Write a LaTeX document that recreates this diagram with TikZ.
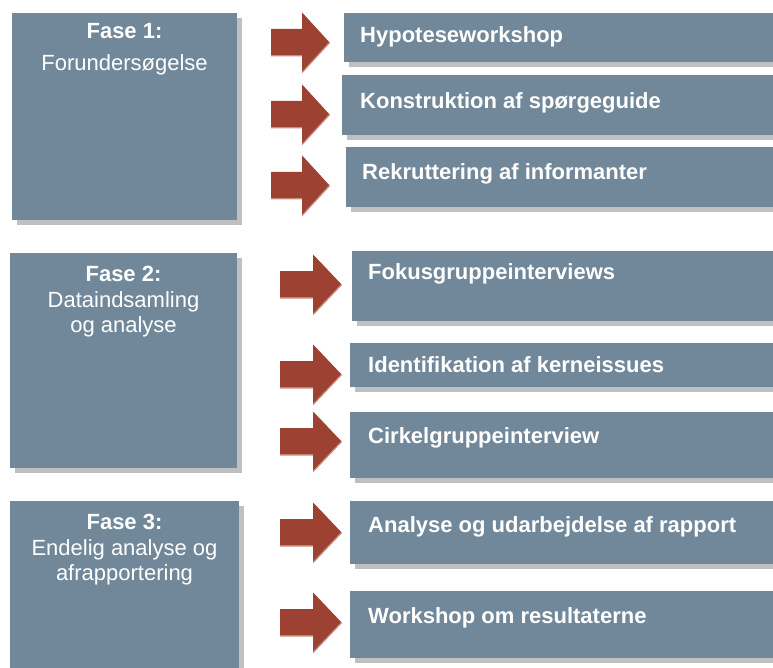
\documentclass[tikz,border=0pt]{standalone}
\usepackage{fontspec}
\setmainfont{Liberation Sans}
\usetikzlibrary{shadows}

\definecolor{slate}{RGB}{113,136,154}
\definecolor{shade}{RGB}{192,192,192}
\definecolor{rust}{RGB}{157,66,50}
\definecolor{rustlight}{RGB}{200,140,128}

\tikzset{
  panel/.style={fill=slate, draw=none, inner sep=0pt, outer sep=0pt, anchor=north west,
    drop shadow={fill=shade, opacity=1, shadow xshift=5pt, shadow yshift=-5pt}},
  title/.style={text=white, font=\fontsize{22}{26}\selectfont\bfseries, anchor=base, inner sep=0pt},
  subtitle/.style={text=white, font=\fontsize{22}{26}\selectfont, anchor=base, inner sep=0pt},
  steptext/.style={text=white, font=\fontsize{22}{26}\selectfont\bfseries, anchor=base west, inner sep=0pt},
  arrowbody/.style={fill=rust},
  arrowedge/.style={fill=rustlight},
}

% block arrow: #1 tail x, #2 head base x, #3 tip x, #4 centre y
\newcommand{\blockarr}[4]{%
  \fill[arrowedge] ({#1},{#4-12}) -- ({#2},{#4-12}) -- ({#2},{#4-29.5}) -- ({#3+1},{#4+1})
    -- ({#2},{#4+31.5}) -- ({#2},{#4+14.5}) -- ({#1},{#4+14.5}) -- cycle;
  \fill[arrowbody] ({#1},{#4-13}) -- ({#2},{#4-13}) -- ({#2},{#4-29.5}) -- ({#3},{#4})
    -- ({#2},{#4+29.5}) -- ({#2},{#4+13}) -- ({#1},{#4+13}) -- cycle;
}

\begin{document}
\begin{tikzpicture}[x=1pt,y=-1pt]
\useasboundingbox (0,0) rectangle (773,668);
\fill[white] (0,0) rectangle (773,668);

% phase panels
\node[panel, minimum width=225pt, minimum height=207pt] (phase1) at (12,13) {};
\node[panel, minimum width=227pt, minimum height=215pt] (phase2) at (10,253) {};
\node[panel, minimum width=229pt, minimum height=180pt] (phase3) at (10,501) {};

\node[title]    (phase1title) at (124.5,39)  {Fase 1:};
\node[subtitle] (phase1sub)   at (124.5,71)  {Forundersøgelse};
\node[title]    (phase2title) at (123.5,281) {Fase 2:};
\node[subtitle] (phase2suba)  at (123.5,307) {Dataindsamling};
\node[subtitle] (phase2subb)  at (123.5,332) {og analyse};
\node[title]    (phase3title) at (124.5,529) {Fase 3:};
\node[subtitle] (phase3suba)  at (124.5,555) {Endelig analyse og};
\node[subtitle] (phase3subb)  at (124.5,580) {afrapportering};

% step panels (run past the right edge)
\node[panel, minimum width=446pt, minimum height=49pt] (step1) at (344,13)  {};
\node[panel, minimum width=448pt, minimum height=60pt] (step2) at (342,75)  {};
\node[panel, minimum width=444pt, minimum height=60pt] (step3) at (346,147) {};
\node[panel, minimum width=438pt, minimum height=70pt] (step4) at (352,251) {};
\node[panel, minimum width=440pt, minimum height=44pt] (step5) at (350,343) {};
\node[panel, minimum width=440pt, minimum height=66pt] (step6) at (350,412) {};
\node[panel, minimum width=440pt, minimum height=63pt] (step7) at (350,501) {};
\node[panel, minimum width=440pt, minimum height=67pt] (step8) at (350,591) {};

\node[steptext] (step1text) at (360,43)  {Hypoteseworkshop};
\node[steptext] (step2text) at (360,109) {Konstruktion af spørgeguide};
\node[steptext] (step3text) at (362,180) {Rekruttering af informanter};
\node[steptext] (step4text) at (368,279) {Fokusgruppeinterviews};
\node[steptext] (step5text) at (368,372) {Identifikation af kerneissues};
\node[steptext] (step6text) at (368,443) {Cirkelgruppeinterview};
\node[steptext] (step7text) at (368,532) {Analyse og udarbejdelse af rapport};
\node[steptext] (step8text) at (368,623) {Workshop om resultaterne};

% block arrows
\blockarr{271}{302}{329}{42}
\blockarr{271}{302}{329}{114}
\blockarr{271}{302}{329}{185}
\blockarr{280}{313}{341}{284}
\blockarr{280}{313}{341}{374}
\blockarr{280}{313}{341}{441}
\blockarr{280}{313}{341}{532}
\blockarr{280}{313}{341}{622}
\end{tikzpicture}
\end{document}
